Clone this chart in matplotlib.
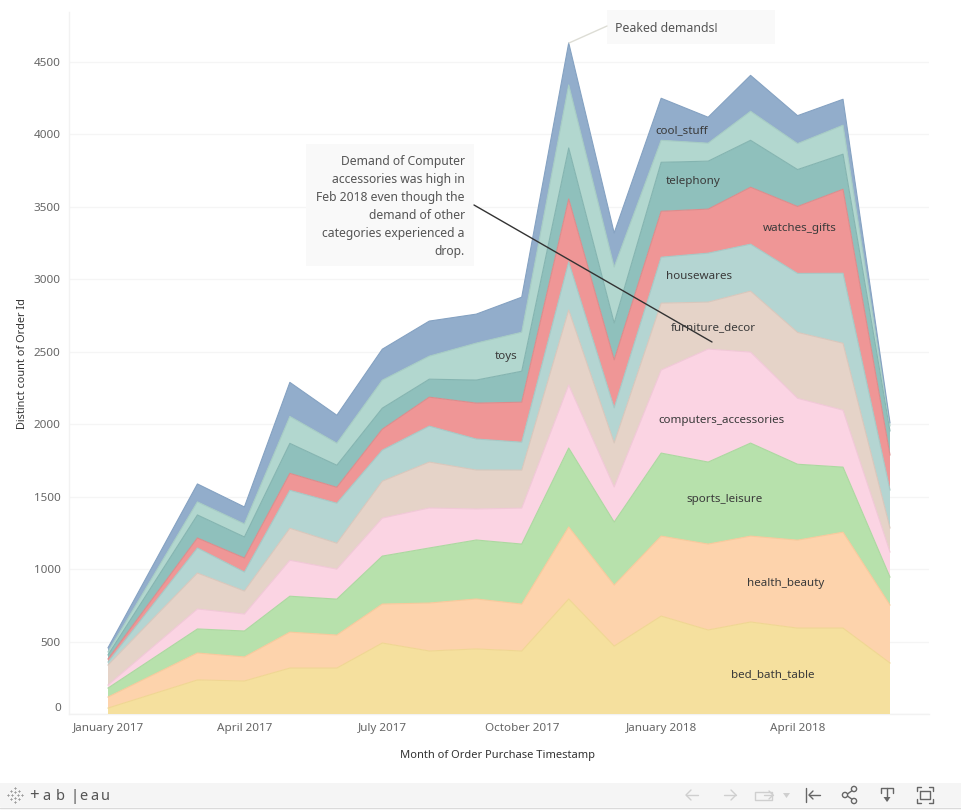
import matplotlib
matplotlib.use("Agg")
import matplotlib.pyplot as plt
from matplotlib.lines import Line2D
from matplotlib.patches import Rectangle, Polygon
import numpy as np
import pandas as pd

plt.rcParams['font.family'] = ['Noto Sans', 'DejaVu Sans']

W, H = 962, 811

months = ["2017-01-01", "2017-03-01", "2017-04-01", "2017-05-01", "2017-06-01", "2017-07-01",
          "2017-08-01", "2017-09-01", "2017-10-01", "2017-11-01", "2017-12-01", "2018-01-01",
          "2018-02-01", "2018-03-01", "2018-04-01", "2018-05-01", "2018-06-01"]

bed_bath_table = [41, 235, 228, 317, 317, 490, 435, 449, 435, 794, 469, 676, 580, 635, 593, 593, 352]
health_beauty = [76, 186, 166, 248, 228, 269, 331, 345, 324, 497, 421, 552, 593, 593, 607, 662, 400]
sports_leisure = [62, 166, 179, 248, 248, 331, 380, 407, 414, 545, 435, 573, 566, 642, 524, 449, 193]
computers_accessories = [21, 138, 117, 248, 207, 262, 276, 214, 248, 435, 242, 573, 780, 628, 455, 393, 173]
furniture_decor = [138, 248, 159, 221, 179, 255, 317, 269, 262, 518, 304, 462, 324, 421, 455, 462, 166]
housewares = [21, 173, 131, 262, 276, 214, 248, 214, 193, 331, 242, 317, 338, 324, 407, 483, 262]
watches_gifts = [21, 69, 97, 117, 110, 145, 200, 248, 276, 435, 331, 317, 304, 393, 462, 580, 242]
telephony = [28, 159, 145, 207, 152, 145, 124, 159, 214, 352, 255, 338, 331, 324, 255, 242, 166]
toys = [21, 90, 90, 186, 152, 193, 159, 255, 269, 435, 386, 152, 124, 200, 179, 200, 35]
cool_stuff = [28, 124, 117, 235, 193, 214, 242, 200, 242, 290, 235, 290, 179, 248, 193, 179, 21]

series = [bed_bath_table, health_beauty, sports_leisure, computers_accessories, furniture_decor,
          housewares, watches_gifts, telephony, toys, cool_stuff]
fills = ["#F5E09E", "#FDD3AC", "#B7E1AC", "#FBD4E3", "#E5D3C8",
         "#B4D5D2", "#EF9696", "#8FC0BC", "#B2D7CF", "#92ADCB"]
edges = ["#F0D692", "#F8C99C", "#ACD8A0", "#F1C8D7", "#D9C7BC",
         "#A6C9C6", "#DC8C8C", "#84B4B0", "#A6CCC4", "#85A2C2"]

ytick_values = [0, 500, 1000, 1500, 2000, 2500, 3000, 3500, 4000, 4500]
xtick_dates = ["2017-01-01", "2017-04-01", "2017-07-01", "2017-10-01", "2018-01-01", "2018-04-01"]
xtick_labels = ["January 2017", "April 2017", "July 2017", "October 2017", "January 2018", "April 2018"]

fig = plt.figure(figsize=(W / 100, H / 100), dpi=100, facecolor="white")


def fx(x):
    return x / W


def fy(y):
    return 1 - y / H


ax = fig.add_axes([fx(69), fy(714), fx(929) - fx(69), fy(12) - fy(714)])
dates = pd.to_datetime(months)
d0 = pd.Timestamp("2017-01-01")
px_per_day = (890 - 108) / 516
ax.set_xlim(d0 + pd.Timedelta(days=(69 - 108) / px_per_day), d0 + pd.Timedelta(days=(929 - 108) / px_per_day))
ax.set_ylim(0, 702 * 500 / 72.44)

base = np.zeros(len(months))
for vals, fc, ec in zip(series, fills, edges):
    top = base + np.array(vals, dtype=float)
    ax.fill_between(dates, base, top, facecolor=fc, edgecolor="none", zorder=3, lw=0)
    ax.plot(dates, top, color=ec, lw=0.8, zorder=4)
    base = top

for s in ["top", "right"]:
    ax.spines[s].set_visible(False)
for s in ["left", "bottom"]:
    ax.spines[s].set_color("#F2F2F2")
    ax.spines[s].set_linewidth(1)

ax.set_yticks(ytick_values)
ax.set_yticklabels([str(v) for v in ytick_values], color="#666666", fontsize=8.4)
ax.get_yticklabels()[0].set_verticalalignment("bottom")
ax.tick_params(axis="y", length=0, pad=6)
ax.grid(axis="y", color="#F5F5F5", lw=1, zorder=0)
ax.set_axisbelow(True)

ax.set_xticks(pd.to_datetime(xtick_dates))
ax.set_xticklabels(xtick_labels, color="#666666", fontsize=8.4)
ax.tick_params(axis="x", length=0, pad=6.5)

fig.text(fx(498), fy(755.5), "Month of Order Purchase Timestamp", ha="center", va="center", fontsize=8.0, color="#333333")
fig.text(fx(22.5), fy(364), "Distinct count of Order Id", ha="center", va="center", rotation=90, fontsize=7.9, color="#333333")

# area labels
area_labels = [("bed_bath_table", 773, 674.5), ("health_beauty", 786, 583.5), ("sports_leisure", 725, 499.5),
               ("computers_accessories", 722, 420.5), ("furniture_decor", 713, 327.5), ("housewares", 699, 276.5),
               ("watches_gifts", 800, 228.5), ("telephony", 693, 181.5), ("cool_stuff", 682, 130.5), ("toys", 506, 356.5)]
for name, x, y in area_labels:
    fig.text(fx(x), fy(y), name, ha="center", va="center", fontsize=8.35, color="#3A3A3A", zorder=10)

# annotations
def box(x0, y0, x1, y1, fc="#F9F9F9", z=6):
    fig.add_artist(Rectangle((fx(x0), fy(y1)), fx(x1) - fx(x0), fy(y0) - fy(y1), transform=fig.transFigure,
                             facecolor=fc, edgecolor="none", zorder=z))


def seg(xs, ys, color, lw=1.0, z=7):
    fig.add_artist(Line2D([fx(x) for x in xs], [fy(y) for y in ys], transform=fig.transFigure,
                          color=color, lw=lw, zorder=z, solid_capstyle="round", solid_joinstyle="round"))


box(607, 10, 775, 44)
fig.text(fx(615), fy(28.5), "Peaked demands!", ha="left", va="center", fontsize=8.85, color="#555555", zorder=8)
seg([569, 607], [43, 26], "#DDDDD5", 1.0)

box(306, 144, 474, 266)
note = ["Demand of Computer", "accessories was high in", "Feb 2018 even though the",
        "demand of other", "categories experienced a", "drop."]
for i, line in enumerate(note):
    fig.text(fx(465), fy(161.5 + i * 17.9), line, ha="right", va="center", fontsize=8.75, color="#555555", zorder=8)
seg([474, 712], [205, 342], "#333333", 1.0, z=9)

# toolbar
box(0, 783, 962, 807, fc="#F5F5F5", z=1)
seg([0, 962], [807.5, 807.5], "#DADADA", 1.0, z=2)
fig.text(fx(29), fy(796), "+", ha="left", va="center", fontsize=12, color="#555555")
for ch, x in zip("ab|eau", [46, 60, 74.5, 83, 94, 105]):
    fig.text(fx(x), fy(796), ch, ha="center", va="center", fontsize=10.5, color="#555555")
for dx, dy in [(0, -7), (0, 7), (-7, 0), (7, 0), (-4, -4), (4, -4), (-4, 4), (4, 4), (0, -3), (0, 3), (-3, 0), (3, 0)]:
    seg([15 + dx - 1, 15 + dx + 1], [795 + dy, 795 + dy], "#999999", 0.6, z=3)
    seg([15 + dx, 15 + dx], [795 + dy - 1, 795 + dy + 1], "#999999", 0.6, z=3)

light, dark = "#CFCFCF", "#666666"
y = 795
seg([686, 698], [y, y], light); seg([691, 686, 691], [y - 5, y, y + 5], light)
seg([724, 736], [y, y], light); seg([731, 736, 731], [y - 5, y, y + 5], light)
seg([763, 772, 772, 755, 755, 763], [y - 3, y - 3, y + 5, y + 5, y - 3, y - 3], light)
seg([764, 773], [y, y], light); seg([769, 773, 769], [y - 4, y, y + 4], light)
fig.add_artist(Polygon([(fx(783), fy(793)), (fx(790), fy(793)), (fx(786.5), fy(798))], transform=fig.transFigure,
                       facecolor=light, edgecolor="none", zorder=7))
seg([806, 806], [y - 7, y + 7], dark)
seg([809, 820], [y, y], dark); seg([813, 809, 813], [y - 4, y, y + 4], dark)
seg([846, 853], [795, 790], dark); seg([846, 853], [795, 800], dark)
for cx, cy in [(845, 795), (854, 789), (854, 801)]:
    fig.add_artist(plt.Circle((cx, H - cy), 2.6, transform=None, facecolor="#F5F5F5", edgecolor=dark, lw=1, zorder=8))
seg([881, 881, 893, 893], [793, 788, 788, 793], dark)
seg([887, 887], [788, 800], dark)
fig.add_artist(Polygon([(fx(883.5), fy(797)), (fx(890.5), fy(797)), (fx(887), fy(802))], transform=fig.transFigure,
                       facecolor=dark, edgecolor="none", zorder=7))
seg([917, 917, 921], [791, 787, 787], dark); seg([929, 933, 933], [787, 787, 791], dark)
seg([917, 917, 921], [799, 803, 803], dark); seg([929, 933, 933], [803, 803, 799], dark)
seg([920, 930, 930, 920, 920], [791, 791, 799, 799, 791], dark)

fig.savefig("out.png", dpi=100)
